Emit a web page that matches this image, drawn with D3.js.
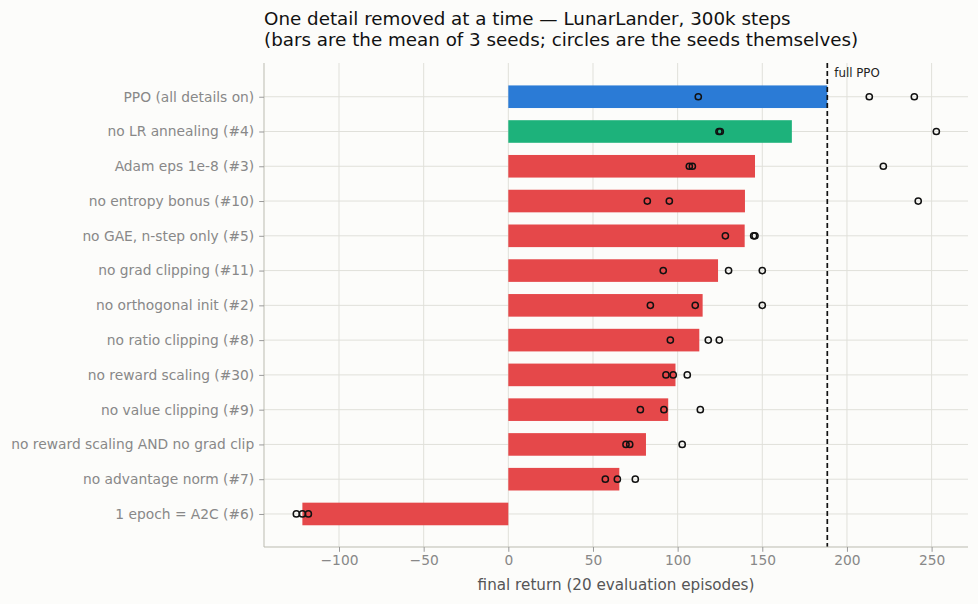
<!DOCTYPE html>
<html>
<head>
<meta charset="utf-8">
<script src="https://cdn.jsdelivr.net/npm/d3@7"></script>
<style>
  body { margin: 0; background: #fcfcfa; }
  svg { display: block; font-family: "DejaVu Sans", sans-serif; }
</style>
</head>
<body>
<svg id="chart"></svg>
<script>
const width = 978;
const height = 604;

// variants, top to bottom
const labels = [
    "PPO (all details on)",
    "no LR annealing (#4)",
    "Adam eps 1e-8 (#3)",
    "no entropy bonus (#10)",
    "no GAE, n-step only (#5)",
    "no grad clipping (#11)",
    "no orthogonal init (#2)",
    "no ratio clipping (#8)",
    "no reward scaling (#30)",
    "no value clipping (#9)",
    "no reward scaling AND no grad clip",
    "no advantage norm (#7)",
    "1 epoch = A2C (#6)"
];

// final return of each of the 3 seeds
const seeds = [
    [112.2, 213.2, 239.8],
    [124.4, 125.2, 252.8],
    [106.9, 108.7, 221.5],
    [82.1, 95.1, 242.1],
    [128.2, 144.9, 145.7],
    [91.5, 130.1, 150.0],
    [83.9, 110.4, 150.0],
    [95.7, 118.1, 124.6],
    [93.1, 97.4, 105.7],
    [78.0, 91.9, 113.4],
    [69.5, 71.7, 102.7],
    [57.3, 64.4, 75.0],
    [-125.2, -121.6, -118.1]
];

const xTicks = [-100, -50, 0, 50, 100, 150, 200, 250];

const means = seeds.map(s => d3.mean(s));
const fullPPO = means[0];

const margin = { top: 63, right: 10, bottom: 57, left: 264 };
const innerW = width - margin.left - margin.right;
const innerH = height - margin.top - margin.bottom;

const svg = d3.select("#chart")
    .attr("width", width)
    .attr("height", height);

svg.append("rect")
    .attr("width", width)
    .attr("height", height)
    .attr("fill", "#fcfcfa");

const g = svg.append("g")
    .attr("transform", `translate(${margin.left},${margin.top})`);

const x = d3.scaleLinear()
    .domain([-144.3, 271.5])
    .range([0, innerW]);

// rows as numeric positions so the 0.65 bar height matches
const y = d3.scaleLinear()
    .domain([-0.97, labels.length - 1 + 0.95])
    .range([0, innerH]);
const barH = y(0.65) - y(0);

// grid
g.append("g")
    .selectAll("line.vgrid")
    .data(xTicks)
    .join("line")
    .attr("x1", d => x(d))
    .attr("x2", d => x(d))
    .attr("y1", 0)
    .attr("y2", innerH)
    .attr("stroke", "#e0e0da")
    .attr("stroke-width", 1);

g.append("g")
    .selectAll("line.hgrid")
    .data(labels)
    .join("line")
    .attr("x1", 0)
    .attr("x2", innerW)
    .attr("y1", (d, i) => y(i))
    .attr("y2", (d, i) => y(i))
    .attr("stroke", "#e0e0da")
    .attr("stroke-width", 1);

// bars: blue = full PPO, green = the one removal that barely hurts, red = the rest
const barColor = i => i === 0 ? "#2b7bd6" : (i === 1 ? "#1db27b" : "#e5484a");

g.append("g")
    .selectAll("rect")
    .data(means)
    .join("rect")
    .attr("x", d => x(Math.min(0, d)))
    .attr("width", d => Math.abs(x(d) - x(0)))
    .attr("y", (d, i) => y(i) - barH / 2)
    .attr("height", barH)
    .attr("fill", (d, i) => barColor(i));

// reference line at the full PPO mean
g.append("line")
    .attr("x1", x(fullPPO))
    .attr("x2", x(fullPPO))
    .attr("y1", 0)
    .attr("y2", innerH)
    .attr("stroke", "#111")
    .attr("stroke-width", 1.7)
    .attr("stroke-dasharray", "5,3");

g.append("text")
    .attr("x", x(fullPPO) + 7)
    .attr("y", 14)
    .attr("font-size", 11.8)
    .attr("fill", "#222")
    .text("full PPO");

// seed circles
g.append("g")
    .selectAll("circle")
    .data(seeds.flatMap((s, i) => s.map(v => ({ row: i, v: v }))))
    .join("circle")
    .attr("cx", d => x(d.v))
    .attr("cy", d => y(d.row))
    .attr("r", 3.1)
    .attr("fill", "none")
    .attr("stroke", "#111")
    .attr("stroke-width", 1.5);

// axes
const xAxis = g.append("g")
    .attr("transform", `translate(0,${innerH})`)
    .call(d3.axisBottom(x).tickValues(xTicks).tickSize(4.8).tickPadding(3.5)
        .tickFormat(d => d < 0 ? "\u2212" + Math.abs(d) : d));

const yAxis = g.append("g")
    .call(d3.axisLeft(y).tickValues(d3.range(labels.length)).tickSize(4.8).tickPadding(5)
        .tickFormat(i => labels[i]));

[xAxis, yAxis].forEach(ax => {
    ax.select(".domain").attr("stroke", "#bbbbb0");
    ax.selectAll(".tick line").attr("stroke", "#999");
    ax.selectAll(".tick text")
        .attr("fill", "#888")
        .attr("font-size", 13.8)
        .attr("font-family", "DejaVu Sans, sans-serif");
});
xAxis.select(".domain").attr("d", `M0,0H${innerW}`);
yAxis.select(".domain").attr("d", `M0,0V${innerH}`);

// x label
svg.append("text")
    .attr("x", margin.left + innerW / 2)
    .attr("y", 590)
    .attr("text-anchor", "middle")
    .attr("font-size", 15.2)
    .attr("fill", "#555")
    .text("final return (20 evaluation episodes)");

// title
const title = svg.append("text")
    .attr("x", margin.left)
    .attr("font-size", 18.3)
    .attr("fill", "#111");
title.append("tspan").attr("x", margin.left).attr("y", 25)
    .text("One detail removed at a time \u2014 LunarLander, 300k steps");
title.append("tspan").attr("x", margin.left).attr("y", 46)
    .text("(bars are the mean of 3 seeds; circles are the seeds themselves)");
</script>
</body>
</html>
